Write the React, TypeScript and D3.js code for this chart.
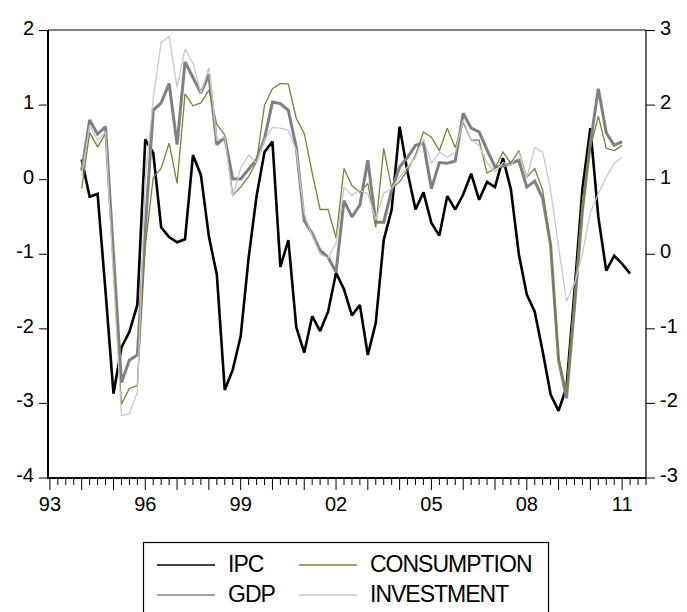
import React, { useEffect, useRef } from 'react';
import * as d3 from 'd3';

// quarterly data, first obs 1994Q1
const START = 1994;
const ipc = [0.27, -0.23, -0.19, -1.5, -2.87, -2.25, -2.04, -1.68, 0.54, 0.36,
  -0.64, -0.77, -0.84, -0.8, 0.33, 0.06, -0.76, -1.27, -2.82, -2.55,
  -2.1, -1.05, -0.22, 0.37, 0.51, -1.17, -0.81, -1.98, -2.32, -1.83,
  -2.03, -1.77, -1.25, -1.47, -1.82, -1.68, -2.35, -1.92, -0.81, -0.4,
  0.71, 0.1, -0.4, -0.17, -0.58, -0.75, -0.22, -0.4, -0.2, 0.08,
  -0.27, -0.03, -0.1, 0.29, -0.13, -1.0, -1.54, -1.77, -2.3, -2.88,
  -3.1, -2.78, -1.5, -0.12, 0.69, -0.5, -1.22, -1.02, -1.13, -1.26];
const gdp = [1.12, 1.8, 1.61, 1.71, 0.0, -1.72, -1.42, -1.35, 0.35, 1.93,
  2.03, 2.29, 1.47, 2.58, 2.37, 2.16, 2.41, 1.47, 1.57, 1.01,
  1.01, 1.14, 1.27, 1.55, 2.04, 2.02, 1.93, 1.43, 0.45, 0.28,
  0.05, -0.04, -0.24, 0.72, 0.5, 0.66, 1.26, 0.43, 0.43, 0.86,
  1.17, 1.3, 1.46, 1.49, 0.88, 1.23, 1.22, 1.25, 1.89, 1.69,
  1.64, 1.4, 1.17, 1.18, 1.22, 1.26, 0.9, 0.98, 0.75, 0.12,
  -1.42, -1.93, -0.71, 0.59, 1.49, 2.22, 1.63, 1.46, 1.51];
const consumption = [0.88, 1.63, 1.44, 1.62, -0.2, -2.01, -1.8, -1.76, 0.1, 1.03,
  1.15, 1.49, 0.95, 2.15, 1.99, 2.03, 2.2, 1.74, 1.6, 0.79,
  0.9, 1.04, 1.24, 2.0, 2.22, 2.29, 2.28, 1.82, 1.62, 1.09,
  0.6, 0.6, 0.22, 1.15, 0.92, 0.83, 0.95, 0.36, 1.42, 0.88,
  0.97, 1.13, 1.33, 1.64, 1.57, 1.39, 1.69, 1.43, 1.77, 1.53,
  1.53, 1.09, 1.15, 1.37, 1.22, 1.39, 1.03, 1.15, 0.86, 0.14,
  -1.39, -1.85, -0.53, 0.72, 1.43, 1.85, 1.42, 1.39, 1.46];
const investment = [1.05, 1.73, 1.53, 1.64, -0.3, -2.16, -2.14, -1.85, 1.0, 2.09,
  2.84, 2.92, 2.24, 2.75, 2.56, 2.16, 2.5, 1.53, 1.57, 0.77,
  1.15, 1.33, 1.22, 1.53, 1.7, 1.69, 1.66, 1.39, 0.55, 0.25,
  0.0, -0.05, 0.15, 0.9, 0.79, 0.86, 0.81, 0.46, 0.82, 0.88,
  1.03, 1.17, 1.3, 1.55, 1.22, 1.37, 1.3, 1.37, 1.8, 1.53,
  1.46, 1.23, 1.1, 1.23, 1.19, 1.37, 1.03, 1.43, 1.37, 0.86,
  0.1, -0.63, -0.39, 0.01, 0.56, 0.81, 1.03, 1.22, 1.3];

const leftTicks = [-4, -3, -2, -1, 0, 1, 2];
const rightTicks = [-3, -2, -1, 0, 1, 2, 3];
const yearLabels = ['93', '96', '99', '02', '05', '08', '11'];

const FONT = '"Liberation Sans", Arial, sans-serif';

export default function App() {
  const ref = useRef<SVGSVGElement>(null);

  useEffect(() => {
    document.body.style.margin = '0';
    const W = 687, H = 612;
    const L = 48, R = 646, T = 30, B = 478;
    const svg = d3.select(ref.current);
    svg.selectAll('*').remove();

    const x = d3.scaleLinear().domain([1992.94, 2011.75]).range([L, R]);
    const yL = d3.scaleLinear().domain([-4, 2]).range([B, T + 0.5]);
    const yR = d3.scaleLinear().domain([-3, 3]).range([B, T + 0.5]);

    svg.append('rect').attr('width', W).attr('height', H).attr('fill', '#fff');

    // series, drawn in EViews order
    const series = [
      { data: ipc, y: yL, color: '#000000', w: 2.6 },
      { data: gdp, y: yR, color: '#808080', w: 3 },
      { data: consumption, y: yR, color: '#7f7f33', w: 1.3 },
      { data: investment, y: yR, color: '#c8c8c8', w: 1.3 },
    ];
    series.forEach(s => {
      const line = d3.line<number>().x((d, i) => x(START + i * 0.25)).y(d => s.y(d));
      svg.append('path').datum(s.data).attr('fill', 'none').attr('stroke', s.color)
        .attr('stroke-width', s.w).attr('stroke-linejoin', 'miter').attr('stroke-miterlimit', 2)
        .attr('d', line);
    });

    // frame
    svg.append('line').attr('x1', L).attr('x2', R).attr('y1', T).attr('y2', T).attr('stroke', '#000').attr('stroke-width', 1);
    svg.append('line').attr('x1', R).attr('x2', R).attr('y1', T).attr('y2', B).attr('stroke', '#000').attr('stroke-width', 1.2);
    svg.append('line').attr('x1', L).attr('x2', L).attr('y1', T).attr('y2', B + 1).attr('stroke', '#000').attr('stroke-width', 2);
    svg.append('line').attr('x1', L - 1).attr('x2', R).attr('y1', B).attr('y2', B).attr('stroke', '#000').attr('stroke-width', 2);

    // left axis
    leftTicks.forEach(v => {
      svg.append('line').attr('x1', L - 9).attr('x2', L).attr('y1', yL(v)).attr('y2', yL(v)).attr('stroke', '#000');
      svg.append('text').text(v).attr('x', 34).attr('y', yL(v) - 3).attr('dy', '0.35em')
        .attr('text-anchor', 'end').attr('font-family', FONT).attr('font-size', 20);
    });
    // right axis
    rightTicks.forEach(v => {
      svg.append('line').attr('x1', R).attr('x2', R + 9).attr('y1', yR(v)).attr('y2', yR(v)).attr('stroke', '#000');
      svg.append('text').text(v).attr('x', 660).attr('y', yR(v) - 3).attr('dy', '0.35em')
        .attr('text-anchor', 'start').attr('font-family', FONT).attr('font-size', 20);
    });
    // bottom axis: yearly major ticks, quarterly minor ticks
    for (let q = 1993; q <= 2011.75 + 1e-6; q += 0.25) {
      const major = Math.abs(q - Math.round(q)) < 1e-6;
      svg.append('line').attr('x1', x(q)).attr('x2', x(q)).attr('y1', B).attr('y2', B + (major ? 12 : 7))
        .attr('stroke', '#000').attr('stroke-width', 1);
    }
    yearLabels.forEach((lab, i) => {
      svg.append('text').text(lab).attr('x', x(1993 + i * 3)).attr('y', 511)
        .attr('text-anchor', 'middle').attr('font-family', FONT).attr('font-size', 20);
    });

    // legend
    const lg = svg.append('g');
    lg.append('rect').attr('x', 143.5).attr('y', 542.5).attr('width', 405).attr('height', 90)
      .attr('fill', 'none').attr('stroke', '#000').attr('stroke-width', 1.2);
    const items = [
      { name: 'IPC', color: '#000000', col: 0, row: 0 },
      { name: 'GDP', color: '#808080', col: 0, row: 1 },
      { name: 'CONSUMPTION', color: '#7f7f33', col: 1, row: 0 },
      { name: 'INVESTMENT', color: '#c8c8c8', col: 1, row: 1 },
    ];
    items.forEach(it => {
      const lx = it.col === 0 ? 157 : 299;
      const ly = it.row === 0 ? 565 : 595;
      lg.append('line').attr('x1', lx).attr('x2', lx + 58).attr('y1', ly).attr('y2', ly)
        .attr('stroke', it.color).attr('stroke-width', 1.3);
      lg.append('text').text(it.name).attr('x', lx + 71).attr('y', ly + 7)
        .attr('font-family', FONT).attr('font-size', 23).attr('letter-spacing', -1);
    });
  }, []);

  return <svg ref={ref} width={687} height={612} style={{ display: 'block' }} />;
}
